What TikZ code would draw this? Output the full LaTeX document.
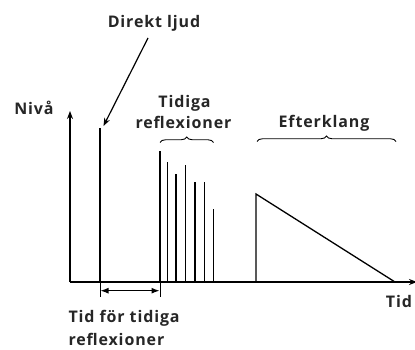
\documentclass[tikz,border=0pt]{standalone}
\usepackage{fontspec}
\setmainfont{Open Sans}[LetterSpace=5.5]
\usetikzlibrary{arrows.meta,decorations.pathreplacing}
\begin{document}
\begin{tikzpicture}[x=1pt,y=-1pt,
  lbl/.style={font=\fontsize{16}{18}\selectfont\bfseries, text=black!85, inner sep=0pt, anchor=base},
  axis/.style={line width=1.4pt},
  refl/.style={line width=1.3pt},
  brc/.style={decorate, decoration={brace, amplitude=5.5pt}, line width=0.9pt},
  tip/.style={-{Stealth[length=8pt,width=6pt]}}
]
\useasboundingbox (0,0) rectangle (415,350);
% axes
\coordinate (O) at (70,282);
\coordinate (Ytop) at (70,111);
\coordinate (Xend) at (417,282);
\draw[axis, tip] (O) -- (Ytop);
\draw[axis, tip] (O) -- (Xend);
% direct sound
\coordinate (d0) at (100,282);
\coordinate (d1) at (100,128);
\draw[line width=2.6pt] (d0) -- (d1);
% reflections
\foreach \x/\t [count=\i] in {160/150.7,167.7/162,176/173.7,185.7/165,195/182,204.3/182,213.7/209}{
  \coordinate (r\i a) at (\x,282);
  \coordinate (r\i b) at (\x,\t);
  \draw[refl] (r\i a) -- (r\i b);
}
% reverberation
\coordinate (e0) at (256,282);
\coordinate (e1) at (256,194);
\coordinate (e2) at (395,282);
\draw[line width=1.3pt] (e0) -- (e1) -- (e2);
% braces
\coordinate (b1l) at (160,142.5);
\coordinate (b1r) at (213.5,142.5);
\coordinate (b2l) at (257,141.5);
\coordinate (b2r) at (396,141.5);
\draw[brc] (b1l) -- (b1r);
\draw[brc] (b2l) -- (b2r);
% labels
\node[lbl] (direkt) at (154,27.3) {Direkt ljud};
\node[lbl] (niva) at (34,115) {Nivå};
\node[lbl] (tidiga) at (184.5,107.7) {Tidiga};
\node[lbl] (refl1) at (183.5,128.3) {reflexioner};
\node[lbl] (efter) at (324,128) {Efterklang};
\node[lbl] (tid) at (399,307.7) {Tid};
\node[lbl, anchor=base west] (tft) at (68.3,322.3) {Tid för tidiga};
\node[lbl, anchor=base west] (refl2) at (68.3,345) {reflexioner};
% arrow to direct sound
\coordinate (a0) at (148,38);
\coordinate (a1) at (103.5,126);
\draw[line width=1.2pt, tip] (a0) -- (a1);
% dimension
\coordinate (t1a) at (100,282);
\coordinate (t1b) at (100,296.5);
\coordinate (t2a) at (160,282);
\coordinate (t2b) at (160,296.5);
\draw[line width=1pt] (t1a) -- (t1b);
\draw[line width=1pt] (t2a) -- (t2b);
\coordinate (m1) at (100.5,290.7);
\coordinate (m2) at (159.5,290.7);
\draw[line width=1.2pt, {Latex[length=8pt,width=6pt]}-{Latex[length=8pt,width=6pt]}] (m1) -- (m2);
\end{tikzpicture}
\end{document}
